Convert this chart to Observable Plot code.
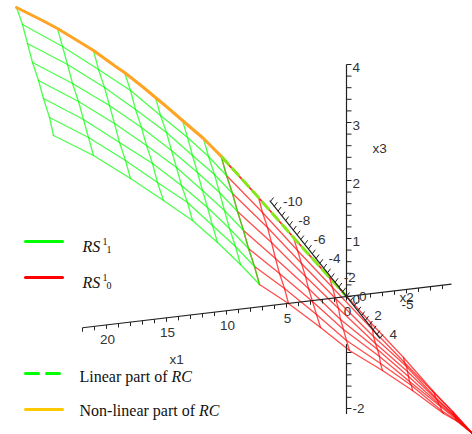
<!DOCTYPE html>
<html><head><meta charset="utf-8">
<style>html,body{margin:0;padding:0;background:#fff}svg{display:block}</style>
<script src="https://cdn.jsdelivr.net/npm/d3@7"></script>
<script src="https://cdn.jsdelivr.net/npm/@observablehq/plot@0.6"></script>
</head><body><div id="chart"></div>
<script>
// Surface grid: every sub-array is one steep grid line, as projected [h, v] pairs.
const greenGrid = [
 [[16,7],[22,24],[27,43],[32,62],[38,80],[43,98],[49,117],[53,135]],
 [[57,28],[62,46],[67,64],[72,83],[78,101],[83,119],[88,137],[93,155]],
 [[93,50],[98,69],[104,87],[109,105],[114,123],[119,142],[125,160],[130,178]],
 [[124,72],[130,90],[135,109],[141,127],[146,145],[152,163],[157,182],[163,200]],
 [[155,97],[160,115],[166,132],[171,150],[176,167],[181,185],[187,202],[192,220]],
 [[182,120],[187,137],[192,155],[197,172],[202,190],[207,207],[212,225],[217,242]],
 [[203,138],[208,156],[214,174],[219,192],[224,210],[229,228],[235,246],[240,264]],
 [[221,157],[226,175],[232,193],[237,211],[243,230],[248,248],[254,266],[259,284]]
];
const redGrid = [
 [[221,157],[226,175],[232,193],[237,211],[243,230],[248,248],[254,266],[259,284]],
 [[258,197],[262,212],[267,227],[271,242],[275,258],[279,273],[284,288],[288,303]],
 [[293,237],[297,250],[301,263],[305,276],[308,288],[312,301],[316,314],[320,327]],
 [[329,277],[332,287],[335,298],[338,308],[340,319],[343,329],[346,340],[349,350]],
 [[370,322],[372,329],[373,336],[375,343],[377,349],[379,356],[380,363],[382,370]],
 [[403,357],[404,362],[406,366],[407,371],[408,376],[409,381],[411,385],[412,390]],
 [[432,390],[434,393],[435,397],[437,400],[438,403],[440,406],[441,410],[443,413]],
 [[452,411],[453,412],[453,414],[454,415],[455,417],[455,418],[456,420],[457,421]],
 [[472,433],[472,433],[472,433],[472,433],[472,433],[472,433],[472,433],[472,433]]
];
const nonLinearRC = [[16,7],[42,20],[57,28],[80,42],[93,50],[118,68],[124,72],[143,87],[155,97],[167,107],[182,120],[203,138],[222,157]];
const linearRC = [[222,157],[258,197],[293,237],[329,277],[346,296]];

const x1Ticks = [-8,-7,-6,-5,-4,-3,-2,-1,0,1,2,3,4,5,6,7,8,9,10,11,12,13,14,15,16,17,18,19,20,21,22];
const x1Labels = [-5,0,5,10,15,20];
const x2Ticks = [-10,-9.5,-9,-8.5,-8,-7.5,-7,-6.5,-6,-5.5,-5,-4.5,-4,-3.5,-3,-2.5,-2,-1.5,-1,-0.5,0,0.5,1,1.5,2,2.5,3,3.5,4,4.4];
const x2Labels = [-10,-8,-6,-4,-2,0,2,4];
const x3Ticks = [4,3.8,3.6,3.4,3.2,3,2.8,2.6,2.4,2.2,2,1.8,1.6,1.4,1.2,1,0.8,0.6,0.4,0.2,0,-1,-1.2,-1.4,-1.6,-1.8,-2];
const x3Labels = [4,3,2,1,0,-2];

// Projection of the three axes on to the picture
const O = [346, 296];
const P1 = v => [O[0] - 12 * v, O[1] + 1.42 * v];
const P2 = v => [O[0] + 7.6 * v, O[1] + 9.5 * v];
const P3 = v => [O[0], O[1] - (v >= 0 ? 58 : 56) * v];

const toRows = g => g[0].map((_, k) => g.map(l => l[k]));
const lines = g => [...g, ...toRows(g)].flatMap((l, i) => l.map(p => ({h: p[0], v: p[1], i})));
const pts = a => a.map(p => ({h: p[0], v: p[1]}));

const gridOpts = (stroke) => ({x: "h", y: "v", z: "i", stroke, strokeWidth: 1.3, strokeOpacity: 0.7});
const ink = "#222";
const tick = (P, values, dx, dy) => Plot.link(values, {
  x1: d => P(d)[0], y1: d => P(d)[1], x2: d => P(d)[0] + dx, y2: d => P(d)[1] + dy, stroke: ink, strokeWidth: 1});
const axisLine = (P, a, b) => Plot.link([[a, b]], {
  x1: d => P(d[0])[0], y1: d => P(d[0])[1], x2: d => P(d[1])[0], y2: d => P(d[1])[1], stroke: ink, strokeWidth: 1.2});
const sans = {fontFamily: "Liberation Sans", fontSize: 13.5, fill: "#333", lineAnchor: "middle"};
const serif = {fontFamily: "Liberation Serif", fill: "#111", textAnchor: "start", lineAnchor: "bottom"};
const legendKey = (a, b, v, stroke, dash) => Plot.line([[a, v], [b, v]], {x: d => d[0], y: d => d[1], stroke, strokeWidth: 3, strokeDasharray: dash});
const word = (t, h, v, size, italic) => Plot.text([t], {...serif, text: d => d, x: () => h, y: () => v, fontSize: size, fontStyle: italic ? "italic" : "normal"});

const chart = Plot.plot({
  width: 472, height: 434, margin: 0,
  x: {type: "linear", domain: [0, 472], range: [0, 472], axis: null},
  y: {type: "linear", domain: [0, 434], range: [0, 434], axis: null},
  style: {background: "#fff"},
  marks: [
    Plot.text([0], {...sans, text: d => String(d), x: d => P1(d)[0] + 1, y: d => P1(d)[1] + 15}),
    Plot.line(lines(redGrid), gridOpts("#ff0000")),
    Plot.line(lines(greenGrid), gridOpts("#00ff00")),
    Plot.line(pts(linearRC), {x: "h", y: "v", stroke: "#ff3030", strokeWidth: 1.5}),
    Plot.line(pts(nonLinearRC), {x: "h", y: "v", stroke: "#00ff00", strokeWidth: 1.5}),
    Plot.line(pts(nonLinearRC), {x: "h", y: "v", stroke: "#ffa424", strokeWidth: 3}),
    Plot.line(pts(linearRC), {x: "h", y: "v", stroke: "#86e81a", strokeWidth: 3, strokeDasharray: "9 6"}),
    axisLine(P1, -8.75, 22), tick(P1, x1Ticks, 0, 4),
    axisLine(P2, -10.1, 4.4), tick(P2, x2Ticks, 3, -4),
    axisLine(P3, 4, 0), axisLine(P3, -0.85, -2.1), tick(P3, x3Ticks, 5, 0),
    Plot.text(x1Labels.filter(d => d !== 0), {...sans, text: d => String(d), x: d => P1(d)[0] + 1, y: d => P1(d)[1] + 15}),
    Plot.text(x2Labels, {...sans, textAnchor: "start", text: d => String(d), x: d => P2(d)[0] + 12.5, y: d => P2(d)[1]}),
    Plot.text(x3Labels, {...sans, textAnchor: "start", text: d => String(d), x: () => 352, y: d => P3(d)[1] + (d < 0 ? 0 : 3)}),
    Plot.text(["x1"], {...sans, text: d => d, x: () => 176, y: () => 359}),
    Plot.text(["x2"], {...sans, text: d => d, x: () => 406, y: () => 297}),
    Plot.text(["x3"], {...sans, text: d => d, x: () => 379, y: () => 148}),
    legendKey(25, 62, 241, "#00ff00"),
    legendKey(25, 62, 277, "#ff0000"),
    legendKey(25, 59, 373, "#00ff00", "13 8"),
    legendKey(25, 62, 409, "#ffc800"),
    word("RS", 82, 251, 16, true), word("1", 102, 244, 10), word("1", 106, 252, 10),
    word("RS", 82, 287, 16, true), word("1", 102, 280, 10), word("0", 106, 288, 10),
    word("Linear part of", 79, 381, 16), word("RC", 171, 381, 16, true),
    word("Non-linear part of", 79, 415, 16), word("RC", 198.5, 415, 16, true)
  ]
});
document.getElementById("chart").appendChild(chart);
</script></body></html>
